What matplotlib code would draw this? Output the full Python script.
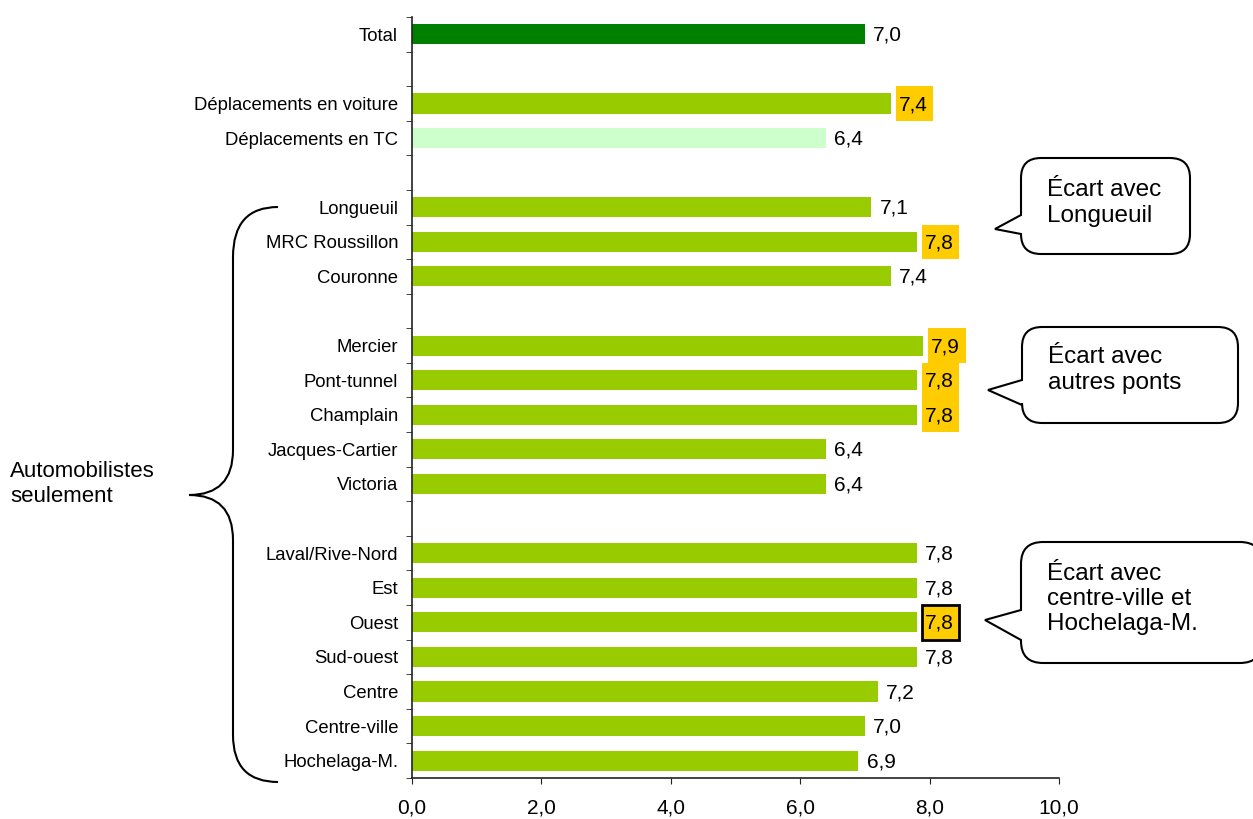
import numpy as np
import matplotlib
matplotlib.use("Agg")
import matplotlib.pyplot as plt
from matplotlib.path import Path
from matplotlib.patches import PathPatch, Rectangle

plt.rcParams['font.family'] = ['Liberation Sans', 'DejaVu Sans']

# donnees
labels = ["Total",
          "Déplacements en voiture", "Déplacements en TC",
          "Longueuil", "MRC Roussillon", "Couronne",
          "Mercier", "Pont-tunnel", "Champlain", "Jacques-Cartier", "Victoria",
          "Laval/Rive-Nord", "Est", "Ouest", "Sud-ouest", "Centre",
          "Centre-ville", "Hochelaga-M."]
values = [7.0,
          7.4, 6.4,
          7.1, 7.8, 7.4,
          7.9, 7.8, 7.8, 6.4, 6.4,
          7.8, 7.8, 7.8, 7.8, 7.2, 7.0, 6.9]
groups = [0, 1, 1, 2, 2, 2, 3, 3, 3, 3, 3, 4, 4, 4, 4, 4, 4, 4]
highlight = ["Déplacements en voiture", "MRC Roussillon", "Mercier",
             "Pont-tunnel", "Champlain", "Ouest"]
boxed = ["Ouest"]
bubbles = ["Écart avec\nLongueuil",
           "Écart avec\nautres ponts",
           "Écart avec\ncentre-ville et\nHochelaga-M."]
brace_text = "Automobilistes\nseulement"

W, H = 1253, 819

# positions: une ligne vide entre les groupes
ypos, pos, prev = [], 0, groups[0]
for g in groups:
    if g != prev:
        pos += 1
        prev = g
    ypos.append(pos)
    pos += 1
n_slots = pos

colors = []
for lab in labels:
    if lab == "Total":
        colors.append("#008000")
    elif lab == "Déplacements en TC":
        colors.append("#CCFFCC")
    else:
        colors.append("#99CC00")

fig = plt.figure(figsize=(W / 100, H / 100), dpi=100)
ax = fig.add_axes([412 / W, 1 - 778 / H, (1059 - 412) / W, (778 - 17) / H])

ax.barh(ypos, values, height=0.58, color=colors, zorder=2)
ax.set_xlim(0, 10)
ax.set_ylim(n_slots - 0.5, -0.5)

for s in ["top", "right"]:
    ax.spines[s].set_visible(False)
for s in ["left", "bottom"]:
    ax.spines[s].set_color("#222222")
    ax.spines[s].set_linewidth(1.2)

ax.set_yticks(ypos)
ax.set_yticklabels(labels, fontsize=13.3)
ax.set_yticks(np.arange(-0.5, n_slots), minor=True)
ax.tick_params(axis="y", which="major", length=0, pad=10)
ax.tick_params(axis="y", which="minor", length=4, direction="out", color="#222222")

xt = np.arange(0, 11, 2)
ax.set_xticks(xt)
ax.set_xticklabels([f"{v:.1f}".replace(".", ",") for v in xt], fontsize=15)
ax.tick_params(axis="x", length=4, pad=11, color="#222222")

# etiquettes de valeurs
for yi, v, lab in zip(ypos, values, labels):
    txt = f"{v:.1f}".replace(".", ",")
    if lab in highlight:
        ec = "black" if lab in boxed else "none"
        lw = 2 if lab in boxed else 0
        ax.add_patch(Rectangle((v + 0.075, yi - 0.5), 0.58, 1.0, fc="#FFCC00",
                               ec=ec, lw=lw, clip_on=False, zorder=3))
    ax.text(v + 0.125, yi + 0.03, txt, ha="left", va="center", fontsize=15, zorder=4)


def px(x, y):
    return (x / W, 1 - y / H)


def bubble(left, top, right, bottom, tip, jt, jb, r):
    verts = [px(left + r, top), px(right - r, top),
             px(right, top), px(right, top + r),
             px(right, bottom - r),
             px(right, bottom), px(right - r, bottom),
             px(left + r, bottom),
             px(left, bottom), px(left, bottom - r),
             px(left, jb), px(*tip), px(left, jt),
             px(left, top + r),
             px(left, top), px(left + r, top),
             px(left + r, top)]
    codes = [Path.MOVETO, Path.LINETO,
             Path.CURVE3, Path.CURVE3,
             Path.LINETO,
             Path.CURVE3, Path.CURVE3,
             Path.LINETO,
             Path.CURVE3, Path.CURVE3,
             Path.LINETO, Path.LINETO, Path.LINETO,
             Path.LINETO,
             Path.CURVE3, Path.CURVE3,
             Path.CLOSEPOLY]
    fig.add_artist(PathPatch(Path(verts, codes), fc="white", ec="black", lw=1.5,
                             transform=fig.transFigure))


bubble(1021, 158, 1190, 254, (995, 229), 215, 234, 20)
bubble(1022, 327, 1238, 423, (988, 390), 380, 405, 20)
bubble(1021, 542, 1262, 663, (985, 620), 610, 640, 22)
fig.text(*px(1047, 203), bubbles[0], ha="left", va="center", fontsize=17.5)
fig.text(*px(1048, 370), bubbles[1], ha="left", va="center", fontsize=17.5)
fig.text(*px(1047, 599), bubbles[2], ha="left", va="center", fontsize=17.5)

# accolade
bverts = [px(278, 207), px(233, 207), px(233, 257),
          px(233, 450),
          px(233, 495), px(189, 495),
          px(233, 495), px(233, 540),
          px(233, 735),
          px(233, 782), px(278, 782)]
bcodes = [Path.MOVETO, Path.CURVE3, Path.CURVE3,
          Path.LINETO,
          Path.CURVE3, Path.CURVE3,
          Path.CURVE3, Path.CURVE3,
          Path.LINETO,
          Path.CURVE3, Path.CURVE3]
fig.add_artist(PathPatch(Path(bverts, bcodes), fc="none", ec="black", lw=1.5,
                         transform=fig.transFigure))
fig.text(*px(10, 484), brace_text, ha="left", va="center", fontsize=16)

fig.savefig("out.png", dpi=100)
